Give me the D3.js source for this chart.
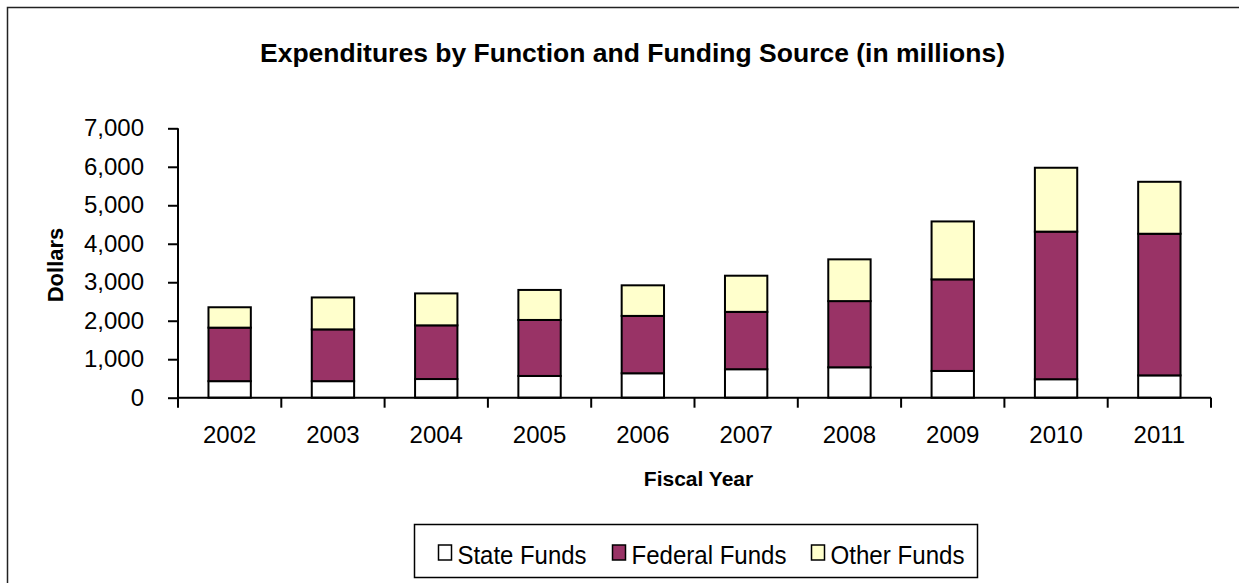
<!DOCTYPE html>
<html>
<head>
<meta charset="utf-8">
<script src="https://cdn.jsdelivr.net/npm/d3@7"></script>
<style>
  html, body { margin: 0; padding: 0; background: #fff; }
  svg { display: block; font-family: "Liberation Sans", Arial, sans-serif; }
</style>
</head>
<body>
<svg id="chart" width="1239" height="583"></svg>
<script>
// Fiscal years shown on the category axis
const years = ["2002", "2003", "2004", "2005", "2006", "2007", "2008", "2009", "2010", "2011"];

// Expenditures in millions of dollars, by funding source
const stateFunds   = [430, 430, 485, 565, 635, 740, 790, 695, 480, 580];
const federalFunds = [1390, 1345, 1395, 1455, 1490, 1490, 1720, 2380, 3835, 3680];
const otherFunds   = [530, 830, 830, 780, 795, 940, 1085, 1505, 1660, 1350];

const seriesNames = ["State Funds", "Federal Funds", "Other Funds"];
const yTicks = [0, 1000, 2000, 3000, 4000, 5000, 6000, 7000];

const colors = { "State Funds": "#ffffff", "Federal Funds": "#993366", "Other Funds": "#ffffcc" };

const rows = years.map((yr, i) => ({
  year: yr,
  "State Funds": stateFunds[i],
  "Federal Funds": federalFunds[i],
  "Other Funds": otherFunds[i]
}));

const svg = d3.select("#chart");
const FONT = "'Liberation Sans', Arial, sans-serif";

// chart-area frame (runs past the right and bottom edges)
svg.append("rect")
  .attr("x", 7.5).attr("y", 7.5)
  .attr("width", 1260).attr("height", 620)
  .attr("fill", "#fff").attr("stroke", "#222").attr("stroke-width", 1.5);

const plot = { left: 178, right: 1211, top: 128.3, bottom: 397.7 };

const x = d3.scaleBand().domain(years).range([plot.left, plot.right]).padding(0);
const y = d3.scaleLinear().domain([0, 7000]).range([plot.bottom, plot.top]);

const barFrac = 0.41;
const barW = x.bandwidth() * barFrac;

// title
svg.append("text")
  .attr("x", 632.5).attr("y", 62)
  .attr("text-anchor", "middle")
  .attr("font-size", 26.5).attr("font-weight", "bold")
  .text("Expenditures by Function and Funding Source (in millions)");

// stacked bars
const stack = d3.stack().keys(seriesNames)(rows);
const layers = svg.append("g").selectAll("g")
  .data(stack).join("g")
  .attr("fill", d => colors[d.key]);

layers.selectAll("rect")
  .data(d => d)
  .join("rect")
  .attr("x", d => x(d.data.year) + (x.bandwidth() - barW) / 2)
  .attr("y", d => y(d[1]))
  .attr("width", barW)
  .attr("height", d => y(d[0]) - y(d[1]))
  .attr("stroke", "#000")
  .attr("stroke-width", 2);

// y axis
const yAxis = svg.append("g")
  .attr("transform", `translate(${plot.left},0)`)
  .call(d3.axisLeft(y).tickValues(yTicks).tickSize(10).tickPadding(24).tickFormat(d3.format(",")));
yAxis.select(".domain").attr("stroke", "#000").attr("stroke-width", 2)
  .attr("d", `M0,${plot.top}V${plot.bottom}`);
yAxis.selectAll(".tick line").attr("stroke", "#000").attr("stroke-width", 2);
yAxis.selectAll(".tick text").attr("font-size", 24).attr("fill", "#000").attr("font-family", FONT);

// x axis: labels centered on categories, tick marks between categories
const xAxis = svg.append("g")
  .attr("transform", `translate(0,${plot.bottom})`)
  .call(d3.axisBottom(x).tickSize(0).tickPadding(28));
xAxis.select(".domain").attr("stroke", "#000").attr("stroke-width", 2)
  .attr("d", `M${plot.left},0H${plot.right}`);
xAxis.selectAll(".tick text").attr("font-size", 24).attr("fill", "#000").attr("font-family", FONT);

const boundaries = years.map(d => x(d)).concat([x(years[years.length - 1]) + x.bandwidth()]);
xAxis.selectAll("line.sep")
  .data(boundaries).join("line")
  .attr("class", "sep")
  .attr("x1", d => d).attr("x2", d => d)
  .attr("y1", 0).attr("y2", 10)
  .attr("stroke", "#000").attr("stroke-width", 2);

// axis titles
svg.append("text")
  .attr("transform", "translate(63,265) rotate(-90)")
  .attr("text-anchor", "middle")
  .attr("font-size", 22).attr("font-weight", "bold")
  .text("Dollars");

svg.append("text")
  .attr("x", 698.5).attr("y", 486)
  .attr("text-anchor", "middle")
  .attr("font-size", 21).attr("font-weight", "bold")
  .text("Fiscal Year");

// legend
const legend = svg.append("g");
legend.append("rect")
  .attr("x", 414.5).attr("y", 524.5).attr("width", 563).attr("height", 53)
  .attr("fill", "#fff").attr("stroke", "#000").attr("stroke-width", 1.5);

const legendX = [438.5, 612.5, 811.5];
const legendW = [129, 155, 134];
const items = legend.selectAll("g.item")
  .data(seriesNames).join("g")
  .attr("class", "item")
  .attr("transform", (d, i) => `translate(${legendX[i]},0)`);
items.append("rect")
  .attr("x", 0).attr("y", 545).attr("width", 13).attr("height", 15)
  .attr("fill", d => colors[d]).attr("stroke", "#000").attr("stroke-width", 1.5);
items.append("text")
  .attr("x", 19).attr("y", 564)
  .attr("font-size", 26)
  .attr("textLength", (d, i) => legendW[i])
  .attr("lengthAdjust", "spacingAndGlyphs")
  .text(d => d);
</script>
</body>
</html>
